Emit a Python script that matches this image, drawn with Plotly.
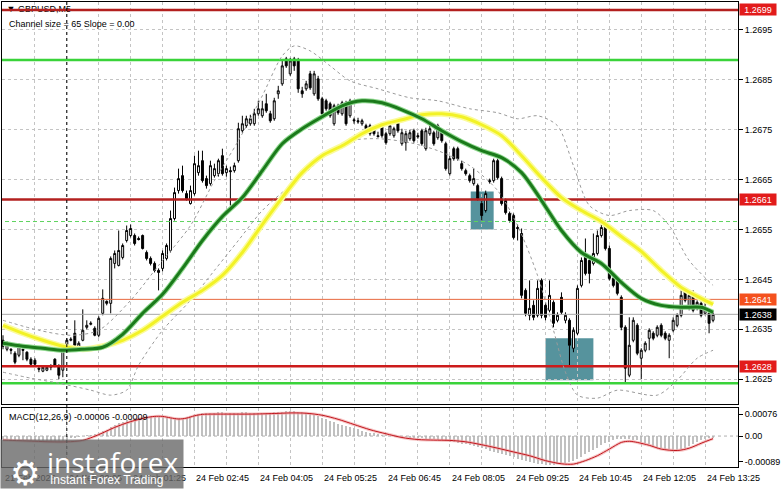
import plotly.graph_objects as go

# ---------------- data ----------------
bar_index = list(range(179))
label_index = [0, 16, 32, 48, 64, 80, 96, 112, 128, 144, 160, 176]
time_labels = ["21 Feb 2025", "24 Feb 00:05", "24 Feb 01:25", "24 Feb 02:45", "24 Feb 04:05",
               "24 Feb 05:25", "24 Feb 06:45", "24 Feb 08:05", "24 Feb 09:25", "24 Feb 10:45",
               "24 Feb 12:05", "24 Feb 13:25"]

opens = [1.26328, 1.26310, 1.26310, 1.26302, 1.26298, 1.26310, 1.26304, 1.26290, 1.26288, 1.26272,
         1.26266, 1.26268, 1.26274, 1.26290, 1.26276, 1.26268, 1.26308, 1.26328, 1.26342, 1.26312,
         1.26328, 1.26354, 1.26360, 1.26352, 1.26338, 1.26382, 1.26406, 1.26402, 1.26482, 1.26478,
         1.26494, 1.26528, 1.26538, 1.26538, 1.26532, 1.26538, 1.26504, 1.26492, 1.26482, 1.26468,
         1.26472, 1.26492, 1.26508, 1.26572, 1.26628, 1.26658, 1.26622, 1.26602, 1.26622, 1.26664,
         1.26688, 1.26652, 1.26642, 1.26658, 1.26662, 1.26698, 1.26664, 1.26668, 1.26668, 1.26688,
         1.26748, 1.26758, 1.26762, 1.26762, 1.26782, 1.26778, 1.26802, 1.26782, 1.26772, 1.26822,
         1.26842, 1.26892, 1.26862, 1.26892, 1.26888, 1.26828, 1.26832, 1.26862, 1.26822, 1.26852,
         1.26812, 1.26808, 1.26802, 1.26762, 1.26798, 1.26782, 1.26804, 1.26778, 1.26770, 1.26768,
         1.26762, 1.26758, 1.26758, 1.26752, 1.26738, 1.26758, 1.26742, 1.26742, 1.26738, 1.26768,
         1.26722, 1.26724, 1.26732, 1.26748, 1.26738, 1.26748, 1.26712, 1.26742, 1.26744, 1.26734,
         1.26748, 1.26722, 1.26662, 1.26712, 1.26712, 1.26682, 1.26668, 1.26658, 1.26642, 1.26638,
         1.26602, 1.26588, 1.26648, 1.26648, 1.26688, 1.26652, 1.26608, 1.26582, 1.26578, 1.26554,
         1.26542, 1.26428, 1.26378, 1.26398, 1.26378, 1.26448, 1.26398, 1.26388, 1.26404, 1.26368,
         1.26414, 1.26368, 1.26368, 1.26312, 1.26342, 1.26438, 1.26502, 1.26488, 1.26482, 1.26502,
         1.26538, 1.26562, 1.26512, 1.26452, 1.26448, 1.26414, 1.26354, 1.26258, 1.26328, 1.26358,
         1.26292, 1.26308, 1.26332, 1.26342, 1.26338, 1.26358, 1.26342, 1.26328, 1.26348, 1.26358,
         1.26378, 1.26428, 1.26392, 1.26424, 1.26392, 1.26402, 1.26382, 1.26382, 1.26368]

highs = [1.26338, 1.26326, 1.26312, 1.26306, 1.26322, 1.26310, 1.26306, 1.26294, 1.26292, 1.26274,
         1.26276, 1.26276, 1.26280, 1.26292, 1.26280, 1.26318, 1.26332, 1.26334, 1.26368, 1.26326,
         1.26390, 1.26368, 1.26366, 1.26356, 1.26376, 1.26430, 1.26408, 1.26496, 1.26508, 1.26548,
         1.26522, 1.26558, 1.26560, 1.26542, 1.26536, 1.26540, 1.26508, 1.26496, 1.26486, 1.26472,
         1.26508, 1.26522, 1.26588, 1.26634, 1.26672, 1.26678, 1.26628, 1.26638, 1.26698, 1.26708,
         1.26708, 1.26658, 1.26688, 1.26682, 1.26692, 1.26712, 1.26678, 1.26676, 1.26684, 1.26764,
         1.26778, 1.26778, 1.26780, 1.26792, 1.26808, 1.26808, 1.26822, 1.26788, 1.26814, 1.26838,
         1.26888, 1.26896, 1.26894, 1.26896, 1.26894, 1.26836, 1.26848, 1.26868, 1.26868, 1.26858,
         1.26816, 1.26812, 1.26806, 1.26802, 1.26802, 1.26808, 1.26808, 1.26812, 1.26774, 1.26774,
         1.26772, 1.26762, 1.26762, 1.26756, 1.26746, 1.26762, 1.26746, 1.26762, 1.26756, 1.26772,
         1.26752, 1.26748, 1.26750, 1.26752, 1.26744, 1.26752, 1.26754, 1.26758, 1.26748, 1.26762,
         1.26752, 1.26726, 1.26698, 1.26716, 1.26716, 1.26688, 1.26672, 1.26662, 1.26672, 1.26642,
         1.26608, 1.26628, 1.26652, 1.26692, 1.26692, 1.26656, 1.26612, 1.26586, 1.26582, 1.26560,
         1.26552, 1.26432, 1.26448, 1.26408, 1.26448, 1.26452, 1.26402, 1.26448, 1.26408, 1.26384,
         1.26424, 1.26384, 1.26372, 1.26354, 1.26438, 1.26494, 1.26532, 1.26494, 1.26542, 1.26548,
         1.26564, 1.26568, 1.26518, 1.26456, 1.26452, 1.26418, 1.26358, 1.26374, 1.26374, 1.26362,
         1.26312, 1.26326, 1.26352, 1.26346, 1.26358, 1.26362, 1.26346, 1.26342, 1.26374, 1.26382,
         1.26428, 1.26432, 1.26424, 1.26428, 1.26408, 1.26406, 1.26408, 1.26386, 1.26384]

lows = [1.26310, 1.26306, 1.26300, 1.26280, 1.26294, 1.26288, 1.26286, 1.26276, 1.26278, 1.26264,
        1.26264, 1.26266, 1.26268, 1.26274, 1.26250, 1.26254, 1.26304, 1.26326, 1.26316, 1.26306,
        1.26326, 1.26350, 1.26358, 1.26336, 1.26334, 1.26378, 1.26398, 1.26382, 1.26472, 1.26476,
        1.26490, 1.26524, 1.26534, 1.26518, 1.26528, 1.26510, 1.26488, 1.26478, 1.26464, 1.26428,
        1.26466, 1.26488, 1.26504, 1.26568, 1.26622, 1.26624, 1.26608, 1.26600, 1.26618, 1.26658,
        1.26644, 1.26632, 1.26638, 1.26654, 1.26656, 1.26658, 1.26656, 1.26598, 1.26664, 1.26684,
        1.26744, 1.26754, 1.26758, 1.26758, 1.26778, 1.26774, 1.26784, 1.26764, 1.26768, 1.26812,
        1.26838, 1.26874, 1.26858, 1.26868, 1.26824, 1.26814, 1.26828, 1.26830, 1.26818, 1.26808,
        1.26778, 1.26788, 1.26774, 1.26758, 1.26780, 1.26778, 1.26758, 1.26774, 1.26762, 1.26762,
        1.26758, 1.26748, 1.26738, 1.26738, 1.26736, 1.26734, 1.26720, 1.26738, 1.26734, 1.26744,
        1.26718, 1.26708, 1.26728, 1.26724, 1.26732, 1.26718, 1.26708, 1.26738, 1.26718, 1.26730,
        1.26724, 1.26668, 1.26658, 1.26688, 1.26688, 1.26668, 1.26658, 1.26644, 1.26638, 1.26608,
        1.26568, 1.26584, 1.26642, 1.26644, 1.26650, 1.26598, 1.26580, 1.26564, 1.26530, 1.26528,
        1.26412, 1.26376, 1.26368, 1.26368, 1.26374, 1.26372, 1.26368, 1.26384, 1.26354, 1.26364,
        1.26380, 1.26362, 1.26278, 1.26304, 1.26338, 1.26434, 1.26458, 1.26442, 1.26478, 1.26498,
        1.26534, 1.26508, 1.26448, 1.26434, 1.26418, 1.26348, 1.26242, 1.26254, 1.26324, 1.26298,
        1.26250, 1.26304, 1.26308, 1.26328, 1.26334, 1.26334, 1.26328, 1.26292, 1.26344, 1.26354,
        1.26374, 1.26404, 1.26388, 1.26384, 1.26388, 1.26374, 1.26378, 1.26342, 1.26364]

closes = [1.26316, 1.26320, 1.26308, 1.26284, 1.26318, 1.26308, 1.26290, 1.26280, 1.26280, 1.26270,
          1.26274, 1.26274, 1.26276, 1.26276, 1.26258, 1.26308, 1.26328, 1.26330, 1.26318, 1.26322,
          1.26348, 1.26358, 1.26362, 1.26338, 1.26372, 1.26412, 1.26402, 1.26492, 1.26502, 1.26508,
          1.26518, 1.26548, 1.26552, 1.26522, 1.26530, 1.26512, 1.26492, 1.26482, 1.26468, 1.26464,
          1.26502, 1.26518, 1.26572, 1.26624, 1.26652, 1.26628, 1.26612, 1.26628, 1.26682, 1.26678,
          1.26648, 1.26638, 1.26678, 1.26672, 1.26688, 1.26662, 1.26672, 1.26666, 1.26678, 1.26752,
          1.26762, 1.26772, 1.26772, 1.26782, 1.26792, 1.26792, 1.26788, 1.26768, 1.26808, 1.26828,
          1.26878, 1.26878, 1.26888, 1.26878, 1.26832, 1.26822, 1.26842, 1.26834, 1.26862, 1.26812,
          1.26782, 1.26792, 1.26778, 1.26798, 1.26784, 1.26804, 1.26762, 1.26808, 1.26768, 1.26766,
          1.26768, 1.26752, 1.26742, 1.26742, 1.26736, 1.26738, 1.26724, 1.26758, 1.26752, 1.26748,
          1.26744, 1.26742, 1.26744, 1.26728, 1.26736, 1.26722, 1.26748, 1.26752, 1.26722, 1.26758,
          1.26728, 1.26672, 1.26692, 1.26692, 1.26692, 1.26672, 1.26662, 1.26648, 1.26652, 1.26612,
          1.26578, 1.26622, 1.26646, 1.26688, 1.26654, 1.26602, 1.26584, 1.26568, 1.26534, 1.26552,
          1.26418, 1.26382, 1.26392, 1.26374, 1.26432, 1.26378, 1.26374, 1.26418, 1.26362, 1.26378,
          1.26384, 1.26378, 1.26318, 1.26348, 1.26432, 1.26488, 1.26462, 1.26462, 1.26502, 1.26538,
          1.26554, 1.26512, 1.26452, 1.26438, 1.26422, 1.26354, 1.26272, 1.26318, 1.26368, 1.26302,
          1.26308, 1.26322, 1.26348, 1.26332, 1.26354, 1.26338, 1.26332, 1.26338, 1.26368, 1.26378,
          1.26418, 1.26408, 1.26418, 1.26388, 1.26404, 1.26378, 1.26394, 1.26362, 1.26380]

# moving averages read at sampled bars
ma_index = [0, 5, 10, 15, 20, 25, 30, 35, 40, 45, 50, 55, 60, 65, 70, 75, 80, 85, 90, 95, 100,
            105, 110, 115, 120, 125, 130, 135, 140, 145, 150, 155, 160, 165, 170, 175, 178]
green_ma = [1.26322, 1.26316, 1.26312, 1.26308, 1.26310, 1.26314, 1.26340, 1.26382, 1.26420, 1.26472,
            1.26528, 1.26576, 1.26614, 1.26668, 1.26722, 1.26752, 1.26776, 1.26798, 1.26808, 1.26804,
            1.26790, 1.26772, 1.26748, 1.26726, 1.26708, 1.26694, 1.26664, 1.26608, 1.26548, 1.26504,
            1.26482, 1.26444, 1.26412, 1.26398, 1.26394, 1.26394, 1.26384]
yellow_ma = [1.26358, 1.26342, 1.26328, 1.26316, 1.26310, 1.26316, 1.26328, 1.26348, 1.26376, 1.26404,
             1.26428, 1.26458, 1.26504, 1.26560, 1.26614, 1.26664, 1.26698, 1.26718, 1.26742, 1.26760,
             1.26770, 1.26780, 1.26782, 1.26776, 1.26760, 1.26738, 1.26698, 1.26654, 1.26614, 1.26588,
             1.26566, 1.26536, 1.26506, 1.26468, 1.26434, 1.26412, 1.26400]

# channel bands (dashed), read at sampled bars
band_up_index = [0, 9, 17, 24, 32, 39, 47, 53, 59, 65, 70, 73, 77, 82, 87, 94, 102, 109, 117, 124,
                 129, 134, 139, 143, 147, 152, 157, 163, 167, 172, 178]
band_up = [1.26368, 1.26348, 1.26338, 1.26348, 1.26408, 1.26478, 1.26558, 1.26648, 1.26728, 1.26818,
           1.26898, 1.26918, 1.26908, 1.26878, 1.26848, 1.26832, 1.26814, 1.26808, 1.26792, 1.26784,
           1.26772, 1.26778, 1.26758, 1.26678, 1.26598, 1.26578, 1.26588, 1.26588, 1.26558, 1.26488,
           1.26438]
band_lo_index = [0, 7, 14, 22, 27, 31, 34, 40, 47, 53, 59, 65, 72, 77, 82, 87, 94, 102, 109, 117,
                 124, 129, 134, 138, 141, 144, 149, 154, 164, 169, 174, 178]
band_lo = [1.26264, 1.26252, 1.26242, 1.26228, 1.26218, 1.26228, 1.26278, 1.26348, 1.26408, 1.26468,
           1.26528, 1.26588, 1.26638, 1.26672, 1.26708, 1.26728, 1.26732, 1.26724, 1.26708, 1.26678,
           1.26628, 1.26558, 1.26458, 1.26348, 1.26264, 1.26218, 1.26212, 1.26228, 1.26218, 1.26248,
           1.26292, 1.26308]

# MACD histogram (main line) per bar, and signal line read at sampled bars
macd_main = [-0.00010, -0.00011, -0.00012, -0.00013, -0.00013, -0.00014, -0.00015, -0.00016, -0.00017, -0.00018,
             -0.00018, -0.00019, -0.00019, -0.00019, -0.00021, -0.00017, -0.00012, -0.00008, -0.00006, -0.00004,
             -0.00001, 0.00002, 0.00005, 0.00007, 0.00011, 0.00017, 0.00022, 0.00030, 0.00037, 0.00044,
             0.00050, 0.00055, 0.00060, 0.00062, 0.00064, 0.00066, 0.00067, 0.00068, 0.00068, 0.00067,
             0.00066, 0.00065, 0.00064, 0.00063, 0.00062, 0.00064, 0.00067, 0.00070, 0.00074, 0.00077,
             0.00079, 0.00080, 0.00081, 0.00081, 0.00082, 0.00082, 0.00081, 0.00080, 0.00080, 0.00081,
             0.00082, 0.00082, 0.00081, 0.00081, 0.00080, 0.00080, 0.00080, 0.00081, 0.00082, 0.00083,
             0.00084, 0.00085, 0.00086, 0.00086, 0.00084, 0.00082, 0.00080, 0.00078, 0.00074, 0.00070,
             0.00064, 0.00059, 0.00053, 0.00048, 0.00043, 0.00038, 0.00034, 0.00030, 0.00027, 0.00023,
             0.00019, 0.00015, 0.00012, 0.00009, 0.00006, 0.00004, 0.00002, 0.00000, -0.00001, -0.00002,
             -0.00003, -0.00004, -0.00005, -0.00006, -0.00007, -0.00008, -0.00009, -0.00010, -0.00011, -0.00012,
             -0.00014, -0.00016, -0.00019, -0.00022, -0.00025, -0.00027, -0.00029, -0.00032, -0.00035, -0.00038,
             -0.00042, -0.00046, -0.00050, -0.00054, -0.00058, -0.00062, -0.00066, -0.00070, -0.00074, -0.00078,
             -0.00082, -0.00086, -0.00089, -0.00092, -0.00095, -0.00097, -0.00099, -0.00100, -0.00099, -0.00098,
             -0.00096, -0.00094, -0.00091, -0.00087, -0.00080, -0.00072, -0.00063, -0.00055, -0.00048, -0.00040,
             -0.00032, -0.00025, -0.00020, -0.00015, -0.00011, -0.00009, -0.00009, -0.00010, -0.00012, -0.00015,
             -0.00019, -0.00024, -0.00029, -0.00034, -0.00038, -0.00042, -0.00044, -0.00046, -0.00047, -0.00047,
             -0.00045, -0.00040, -0.00034, -0.00027, -0.00020, -0.00014, -0.00010, -0.00008, -0.00006]
signal_index = [0, 4, 8, 12, 16, 20, 24, 28, 32, 36, 38, 40, 42, 44, 46, 48, 50, 56, 62, 68, 72, 76,
                80, 84, 88, 92, 96, 100, 104, 108, 112, 116, 120, 124, 128, 132, 136, 140, 143, 146,
                149, 152, 155, 157, 159, 162, 165, 169, 172, 175, 178]
macd_signal = [-0.00014, -0.00016, -0.00018, -0.00020, -0.00020, -0.00015, 0.00005, 0.00030, 0.00050,
               0.00064, 0.00068, 0.00068, 0.00063, 0.00059, 0.00062, 0.00070, 0.00075, 0.00076, 0.00076,
               0.00078, 0.00080, 0.00079, 0.00072, 0.00058, 0.00040, 0.00022, 0.00008, -0.00005, -0.00012,
               -0.00014, -0.00015, -0.00020, -0.00030, -0.00042, -0.00055, -0.00068, -0.00085, -0.00096,
               -0.00097, -0.00085, -0.00068, -0.00045, -0.00022, -0.00018, -0.00022, -0.00032, -0.00045,
               -0.00050, -0.00042, -0.00025, -0.00009]

# horizontal levels: price, colour, width, dash
level_prices = [1.2699, 1.2689, 1.2661, 1.26566, 1.2641, 1.2638, 1.26276, 1.26242]
level_colors = ["#b3201f", "#3ad33a", "#b3201f", "#5fd35f", "#e8693f", "#a8a8a8", "#cc1b1b", "#3ad33a"]
level_widths = [2.5, 2.5, 2.5, 1, 1, 1, 2.5, 2.5]
level_dash = ["solid", "solid", "solid", "4px,3px", "solid", "solid", "solid", "solid"]

# price tags on the right axis
tag_prices = [1.2699, 1.2661, 1.2641, 1.2638, 1.26276]
tag_texts = ["1.2699", "1.2661", "1.2641", "1.2638", "1.2628"]
tag_colors = ["#e21b1b", "#e21b1b", "#f4511e", "#000000", "#e21b1b"]

# highlight boxes: bar from, bar to, price low, price high
box_x0 = [117.25, 136.0]
box_x1 = [123.0, 148.0]
box_y0 = [1.26550, 1.26248]
box_y1 = [1.26626, 1.26332]

day_separator = 16
x_range = [-0.25, 184.25]
FONT = "Liberation Sans"

fig = go.Figure()

# header text (drawn first so the top level line crosses it)
fig.add_trace(go.Scatter(x=[0.9], y=[1.26990], mode="text", text=["▼ GBPUSD,M5"],
                         textposition="middle right", textfont=dict(family=FONT, size=9, color="black"),
                         cliponaxis=False, hoverinfo="skip", xaxis="x", yaxis="y"))
fig.add_trace(go.Scatter(x=[1.5], y=[1.26960], mode="text", text=["Channel size = 65 Slope = 0.00"],
                         textposition="middle right", textfont=dict(family=FONT, size=9, color="black"),
                         cliponaxis=False, hoverinfo="skip", xaxis="x", yaxis="y"))

# level lines
for p, c, w, d in zip(level_prices, level_colors, level_widths, level_dash):
    fig.add_trace(go.Scatter(x=[x_range[0] - 1, x_range[1] + 1], y=[p, p], mode="lines",
                             line=dict(color=c, width=w, dash=d), hoverinfo="skip",
                             xaxis="x", yaxis="y"))

# channel bands
for xi, yi in [(band_up_index, band_up), (band_lo_index, band_lo)]:
    fig.add_trace(go.Scatter(x=xi, y=yi, mode="lines", line=dict(color="#9a9a9a", width=1, dash="3px,3px",
                             shape="spline", smoothing=0.8), hoverinfo="skip", xaxis="x", yaxis="y"))

# moving averages with soft halo
fig.add_trace(go.Scatter(x=ma_index, y=yellow_ma, mode="lines",
                         line=dict(color="#fbfb9c", width=6, shape="spline", smoothing=0.8),
                         hoverinfo="skip", xaxis="x", yaxis="y"))
fig.add_trace(go.Scatter(x=ma_index, y=yellow_ma, mode="lines",
                         line=dict(color="#f2f226", width=3, shape="spline", smoothing=0.8),
                         hoverinfo="skip", xaxis="x", yaxis="y"))
fig.add_trace(go.Scatter(x=ma_index, y=green_ma, mode="lines",
                         line=dict(color="#8fd88f", width=5, shape="spline", smoothing=0.8),
                         hoverinfo="skip", xaxis="x", yaxis="y"))
fig.add_trace(go.Scatter(x=ma_index, y=green_ma, mode="lines",
                         line=dict(color="#1b7a1b", width=3, shape="spline", smoothing=0.8),
                         hoverinfo="skip", xaxis="x", yaxis="y"))

# candles
fig.add_trace(go.Candlestick(x=bar_index, open=opens, high=highs, low=lows, close=closes,
                             increasing=dict(line=dict(color="black", width=1), fillcolor="white"),
                             decreasing=dict(line=dict(color="black", width=1), fillcolor="black"),
                             whiskerwidth=0, xaxis="x", yaxis="y", hoverinfo="skip"))

# MACD
fig.add_trace(go.Scatter(x=[x_range[0] - 1, x_range[1] + 1], y=[0, 0], mode="lines",
                         line=dict(color="#b0b0b0", width=1, dash="3px,3px"), hoverinfo="skip",
                         xaxis="x2", yaxis="y2"))
fig.add_trace(go.Bar(x=bar_index, y=macd_main, width=0.5, marker=dict(color="#c0c0c0", line=dict(width=0)),
                     xaxis="x2", yaxis="y2", hoverinfo="skip"))
fig.add_trace(go.Scatter(x=signal_index, y=macd_signal, mode="lines",
                         line=dict(color="rgba(240,160,160,0.6)", width=3, shape="spline", smoothing=0.8),
                         xaxis="x2", yaxis="y2", hoverinfo="skip"))
fig.add_trace(go.Scatter(x=signal_index, y=macd_signal, mode="lines",
                         line=dict(color="#c0141c", width=1, shape="spline", smoothing=0.8),
                         xaxis="x2", yaxis="y2", hoverinfo="skip"))

shapes = []
for a, b, c, d in zip(box_x0, box_x1, box_y0, box_y1):
    shapes.append(dict(type="rect", xref="x", yref="y", x0=a, x1=b, y0=c, y1=d,
                       fillcolor="#56939d", line=dict(width=0), layer="below"))
shapes.append(dict(type="line", xref="x", yref="paper", x0=day_separator, x1=day_separator, y0=0, y1=1,
                   line=dict(color="black", width=1, dash="3px,3px"), layer="above"))

annotations = []
for p, t, c in zip(tag_prices, tag_texts, tag_colors):
    annotations.append(dict(xref="paper", yref="y", x=1, y=p, xanchor="left", yanchor="middle", xshift=1,
                            text=t, showarrow=False, bgcolor=c, width=36, height=11, borderpad=0,
                            font=dict(family=FONT, size=9, color="white")))
for xi, t in zip(label_index, time_labels):
    annotations.append(dict(xref="x2", yref="paper", x=xi, y=0, xanchor="left", yanchor="top",
                            xshift=0, yshift=-4, text=t, showarrow=False,
                            font=dict(family=FONT, size=9, color="black")))
annotations.append(dict(xref="x2", yref="y2", x=1, y=0.00091, xanchor="left", yanchor="top",
                        text="MACD(12,26,9) -0.00006 -0.00009", showarrow=False,
                        font=dict(family=FONT, size=9, color="black")))
# logo
annotations.append(dict(xref="paper", yref="paper", x=-2 / 738, y=-22 / 466, xanchor="left", yanchor="bottom",
                        text=" ", showarrow=False, width=180, height=46, bgcolor="rgba(105,105,105,0.8)"))
annotations.append(dict(xref="paper", yref="paper", x=6 / 738, y=-6 / 466, xanchor="left", yanchor="middle",
                        text="⚙", showarrow=False, font=dict(family="DejaVu Sans", size=34, color="white")))
annotations.append(dict(xref="paper", yref="paper", x=43 / 738, y=5 / 466, xanchor="left", yanchor="middle",
                        text="instaforex", showarrow=False, font=dict(family="Open Sans", size=28, color="white")))
annotations.append(dict(xref="paper", yref="paper", x=46 / 738, y=-13 / 466, xanchor="left", yanchor="middle",
                        text="Instant Forex Trading", showarrow=False,
                        font=dict(family=FONT, size=12, color="white")))

grid = dict(showgrid=True, gridcolor="#c4c4c4", griddash="3px,3px", gridwidth=1)
fig.update_layout(
    width=781, height=489, margin=dict(l=2, r=41, t=1, b=22),
    paper_bgcolor="white", plot_bgcolor="white", showlegend=False, bargap=0, hovermode=False,
    xaxis=dict(domain=[0, 1], range=x_range, anchor="y", tick0=0, dtick=8, showticklabels=False,
               ticks="", zeroline=False, showline=True, linecolor="black", linewidth=1, mirror=True,
               rangeslider=dict(visible=False), **grid),
    yaxis=dict(domain=[0.1352, 1], range=[1.26200, 1.27006], anchor="x", side="right", tick0=1.2625,
               dtick=0.001, tickformat=".4f", ticks="outside", ticklen=4, tickcolor="black",
               tickfont=dict(family=FONT, size=9, color="black"), zeroline=False,
               showline=True, linecolor="black", linewidth=1, mirror=True, **grid),
    xaxis2=dict(domain=[0, 1], range=x_range, anchor="y2", tick0=0, dtick=8, showticklabels=False,
                ticks="", zeroline=False, showline=True, linecolor="black", linewidth=1, mirror=True, **grid),
    yaxis2=dict(domain=[0, 0.1266], range=[-0.00107, 0.000966], anchor="x2", side="right",
                tickvals=[0.00076, 0, -0.00089], ticktext=["0.00076", "0.00", "-0.00089"],
                ticks="outside", ticklen=4, tickcolor="black",
                tickfont=dict(family=FONT, size=9, color="black"), showgrid=False, zeroline=False,
                showline=True, linecolor="black", linewidth=1, mirror=True),
    shapes=shapes, annotations=annotations,
)

fig.write_html("out.html", config={"displayModeBar": False, "staticPlot": True},
               post_script="document.body.style.margin='0';document.body.style.overflow='hidden';")
